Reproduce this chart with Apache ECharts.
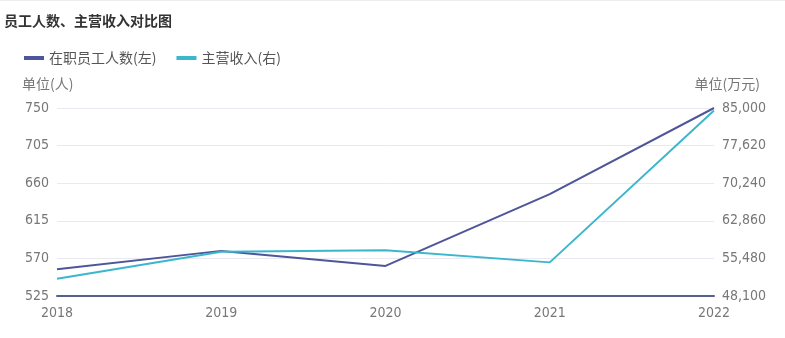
<!DOCTYPE html>
<html>
<head>
<meta charset="utf-8">
<script src="https://cdn.jsdelivr.net/npm/echarts@6/dist/echarts.min.js"></script>
<style>
html,body{margin:0;padding:0;background:#fff;}
#top{position:absolute;left:0;top:0;width:785px;height:2px;border-top:1px solid #eeeeee;}
#c{width:785px;height:338px;}
</style>
</head>
<body>
<div id="c"></div>
<script>
const years = ['2018', '2019', '2020', '2021', '2022'];
const staff = [557, 579, 561, 647, 750];
const revenue = [51500, 56800, 57100, 54700, 84500];
const leftTicks = {min: 525, max: 750, interval: 45};
const rightTicks = {min: 48100, max: 85000, interval: 7380};
const title = '员工人数、主营收入对比图';
const names = ['在职员工人数(左)', '主营收入(右)'];

const numFont = '"Liberation Sans Narrow", "DejaVu Sans Condensed", "Noto Sans CJK SC", sans-serif';
const cjkFont = '"Noto Sans CJK SC", sans-serif';

const chart = echarts.init(document.getElementById('c'));
chart.setOption({
  animation: false,
  backgroundColor: '#fff',
  color: ['#4E5599', '#3CB6CD'],
  title: {
    text: title, left: -1, top: 9,
    textStyle: {fontSize: 14, fontWeight: 'bold', color: '#333', fontFamily: cjkFont}
  },
  legend: {
    left: 19, top: 46, itemWidth: 20, itemHeight: 4, itemGap: 20,
    icon: 'rect',
    textStyle: {fontSize: 14, color: '#555', fontFamily: cjkFont},
    data: names
  },
  grid: {left: 57, right: 71, top: 108, bottom: 42},
  xAxis: {
    type: 'category', data: years, boundaryGap: false,
    axisLine: {lineStyle: {color: '#56608F', width: 2}},
    axisTick: {show: false},
    axisLabel: {fontSize: 14, color: '#777', fontFamily: numFont, margin: 10}
  },
  yAxis: [{
    type: 'value', name: '单位(人)', nameLocation: 'end', nameGap: 17,
    nameTextStyle: {fontSize: 14, color: '#777', fontFamily: cjkFont, align: 'left', padding: [0, 0, 0, -35]},
    min: leftTicks.min, max: leftTicks.max, interval: leftTicks.interval,
    axisLine: {show: false}, axisTick: {show: false},
    axisLabel: {fontSize: 14, color: '#777', fontFamily: numFont, margin: 8},
    splitLine: {lineStyle: {color: '#E9E9F2', width: 1}}
  }, {
    type: 'value', name: '单位(万元)', nameLocation: 'end', nameGap: 17,
    nameTextStyle: {fontSize: 14, color: '#777', fontFamily: cjkFont, align: 'right', padding: [0, -46, 0, 0]},
    min: rightTicks.min, max: rightTicks.max, interval: rightTicks.interval,
    axisLine: {show: false}, axisTick: {show: false},
    axisLabel: {fontSize: 14, color: '#777', fontFamily: numFont, margin: 8,
      formatter: v => Number(v).toLocaleString('en-US')},
    splitLine: {show: false}
  }],
  series: [{
    name: names[0], type: 'line', data: staff, yAxisIndex: 0,
    symbol: 'none', lineStyle: {width: 2}
  }, {
    name: names[1], type: 'line', data: revenue, yAxisIndex: 1,
    symbol: 'none', lineStyle: {width: 2}
  }]
});
</script>
<div id="top"></div>
</body>
</html>
